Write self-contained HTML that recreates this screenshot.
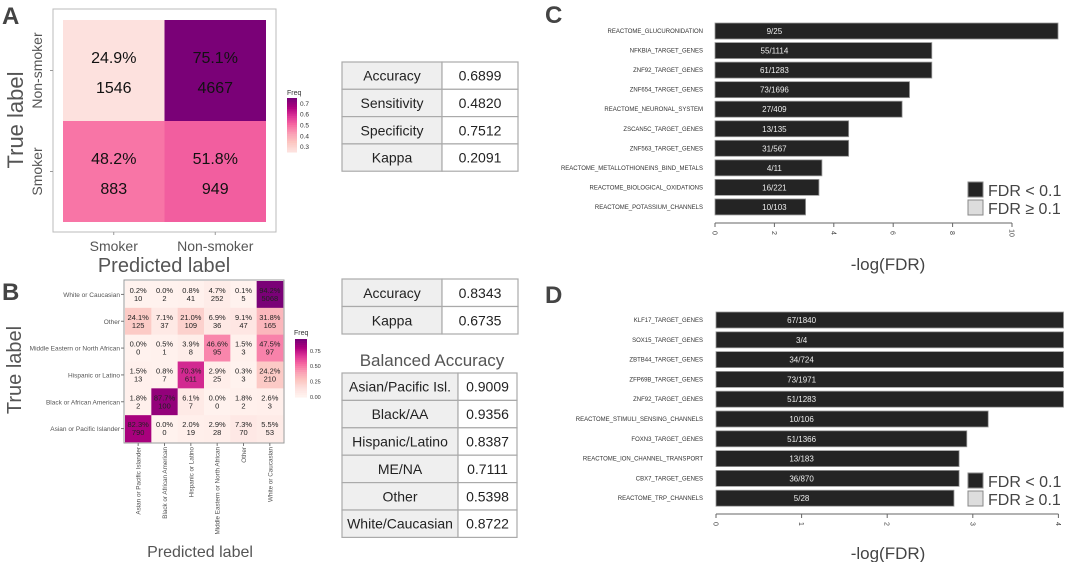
<!DOCTYPE html>
<html><head><meta charset="utf-8">
<style>
body{margin:0;background:#fff;}
svg{display:block;font-family:"Liberation Sans",Arial,sans-serif;}
</style></head>
<body>
<svg id="fig" width="1065" height="562" viewBox="0 0 1065 562" xmlns="http://www.w3.org/2000/svg">
<g id="gA"></g>
<g id="gB"></g>
<g id="gT"></g>
<g id="gC"></g>
<g id="gD"></g>
</svg>
<script>
// ---- Panel A data ----
const aCats = ["Smoker","Non-smoker"];
const aPct = [[0.249,0.751],[0.482,0.518]]; // rows: Non-smoker(top), Smoker(bottom)
const aCounts = [[1546,4667],[883,949]];
const aRowLabels = ["Non-smoker","Smoker"];
const aLegendTicks = [0.3,0.4,0.5,0.6,0.7];
// ---- Panel B data ----
const bCols = ["Asian or Pacific Islander","Black or African American","Hispanic or Latino","Middle Eastern or North African","Other","White or Caucasian"];
const bRows = ["White or Caucasian","Other","Middle Eastern or North African","Hispanic or Latino","Black or African American","Asian or Pacific Islander"];
const bPct = [
 [0.2,0.0,0.8,4.7,0.1,94.2],
 [24.1,7.1,21.0,6.9,9.1,31.8],
 [0.0,0.5,3.9,46.6,1.5,47.5],
 [1.5,0.8,70.3,2.9,0.3,24.2],
 [1.8,87.7,6.1,0.0,1.8,2.6],
 [82.3,0.0,2.0,2.9,7.3,5.5]];
const bCounts = [
 [10,2,41,252,5,5068],
 [125,37,109,36,47,165],
 [0,1,8,95,3,97],
 [13,7,611,25,3,210],
 [2,100,7,0,2,3],
 [790,0,19,28,70,53]];
const bLegendTicks = [0.00,0.25,0.50,0.75];
// ---- Tables ----
const tA = [["Accuracy","0.6899"],["Sensitivity","0.4820"],["Specificity","0.7512"],["Kappa","0.2091"]];
const tB1 = [["Accuracy","0.8343"],["Kappa","0.6735"]];
const tB2 = [["Asian/Pacific Isl.","0.9009"],["Black/AA","0.9356"],["Hispanic/Latino","0.8387"],["ME/NA","0.7111"],["Other","0.5398"],["White/Caucasian","0.8722"]];
// ---- Panel C data ----
const cTerms = ["REACTOME_GLUCURONIDATION","NFKBIA_TARGET_GENES","ZNF92_TARGET_GENES","ZNF654_TARGET_GENES","REACTOME_NEURONAL_SYSTEM","ZSCAN5C_TARGET_GENES","ZNF563_TARGET_GENES","REACTOME_METALLOTHIONEINS_BIND_METALS","REACTOME_BIOLOGICAL_OXIDATIONS","REACTOME_POTASSIUM_CHANNELS"];
const cValues = [11.55,7.3,7.3,6.55,6.3,4.5,4.5,3.6,3.5,3.05];
const cRatios = ["9/25","55/1114","61/1283","73/1696","27/409","13/135","31/567","4/11","16/221","10/103"];
const cTicks = [0,2,4,6,8,10];
// ---- Panel D data ----
const dTerms = ["KLF17_TARGET_GENES","SOX15_TARGET_GENES","ZBTB44_TARGET_GENES","ZFP69B_TARGET_GENES","ZNF92_TARGET_GENES","REACTOME_STIMULI_SENSING_CHANNELS","FOXN3_TARGET_GENES","REACTOME_ION_CHANNEL_TRANSPORT","CBX7_TARGET_GENES","REACTOME_TRP_CHANNELS"];
const dValues = [4.06,4.06,4.06,4.06,4.06,3.18,2.93,2.84,2.84,2.78];
const dRatios = ["67/1840","3/4","34/724","73/1971","51/1283","10/106","51/1366","13/183","36/870","5/28"];
const dTicks = [0,1,2,3,4];

const NS="http://www.w3.org/2000/svg";
function mk(parent,tag,attrs,text){const e=document.createElementNS(NS,tag);for(const k in attrs)e.setAttribute(k,attrs[k]);if(text!==undefined)e.textContent=text;parent.appendChild(e);return e;}
const stops=["#fff2ee","#fde0dd","#fcc5c0","#fa9fb5","#f768a1","#dd3497","#ae017e","#7a0177"];
function hex(h){return [1,3,5].map(i=>parseInt(h.substr(i,2),16));}
function rdpu(t){t=Math.max(0,Math.min(1,t));const p=t*(stops.length-1);const i=Math.min(stops.length-2,Math.floor(p));const f=p-i;const a=hex(stops[i]),b=hex(stops[i+1]);return "rgb("+a.map((v,k)=>Math.round(v+(b[k]-v)*f)).join(",")+")";}

// ===== Panel A =====
(function(){
const g=document.getElementById('gA');
const L=mk(g,'text',{x:2,y:24,'font-size':24,'font-weight':'bold',fill:'#444'},'A');

const fr=mk(g,'rect',{x:53,y:9,width:223,height:223,fill:'#fff',stroke:'#bbb','stroke-width':1});

const x0=63,y0=20,cw=101.5,ch=101;
const mn=0.17,mx=0.751;
for(let r=0;r<2;r++)for(let c=0;c<2;c++){
 const v=aPct[r][c];
 const cell=mk(g,'rect',{x:x0+c*cw,y:y0+r*ch,width:cw,height:ch,fill:rdpu((v-mn)/(mx-mn))});
 
 const cx=x0+c*cw+cw/2;
 const t1=mk(g,'text',{x:cx,y:y0+r*ch+43,'font-size':16,'text-anchor':'middle',fill:'#111'},(v*100).toFixed(1)+'%');
 
 const t2=mk(g,'text',{x:cx,y:y0+r*ch+73,'font-size':16,'text-anchor':'middle',fill:'#111'},aCounts[r][c]);
 
}
aCats.forEach((c,i)=>{const t=mk(g,'text',{x:x0+i*cw+cw/2,y:251,'font-size':14,'text-anchor':'middle',fill:'#555'},c);
 
 mk(g,'line',{x1:x0+i*cw+cw/2,x2:x0+i*cw+cw/2,y1:232,y2:235,stroke:'#999'});});
aRowLabels.forEach((c,i)=>{const yy=y0+i*ch+ch/2;const t=mk(g,'text',{x:0,y:0,'font-size':14,'text-anchor':'middle',fill:'#555',transform:'translate(42,'+yy+') rotate(-90)'},c);
 
 mk(g,'line',{x1:50,x2:53,y1:yy,y2:yy,stroke:'#999'});});
const xt=mk(g,'text',{x:164,y:272,'font-size':20,'text-anchor':'middle',fill:'#555'},'Predicted label');

const yt=mk(g,'text',{x:0,y:0,'font-size':22,'text-anchor':'middle',fill:'#555',transform:'translate(23,120) rotate(-90)'},'True label');

const lt=mk(g,'text',{x:287,y:95,'font-size':7,fill:'#333'},'Freq');

const N=30,by=98,bh=54,lmn=0.249;
for(let i=0;i<N;i++){const v=mx-(mx-lmn)*i/(N-1);mk(g,'rect',{x:287,y:by+i*bh/N,width:10,height:bh/N+0.5,fill:rdpu((v-mn)/(mx-mn))});}
aLegendTicks.forEach(t=>{const yy=by+bh-(t-lmn)/(mx-lmn)*bh;const e=mk(g,'text',{x:300,y:yy+2.5,'font-size':6.5,fill:'#333'},t.toFixed(1));
 });
})();

// ===== Panel B =====
(function(){
const g=document.getElementById('gB');
const L=mk(g,'text',{x:2,y:300,'font-size':24,'font-weight':'bold',fill:'#444'},'B');

const x0=125,y0=281,w=158,h=161,cw=w/6,ch=h/6;
mk(g,'rect',{x:x0-1,y:y0-1,width:w+2,height:h+2,fill:'#fff',stroke:'#999'});
const mx=94.2;
for(let r=0;r<6;r++)for(let c=0;c<6;c++){
 const v=bPct[r][c];
 const cell=mk(g,'rect',{x:x0+c*cw,y:y0+r*ch,width:cw+0.3,height:ch+0.3,fill:rdpu(v/mx)});
 
 const cx=x0+c*cw+cw/2;
 mk(g,'text',{x:cx,y:y0+r*ch+12,'font-size':7.5,'text-anchor':'middle',fill:'#222'},v.toFixed(1)+'%');
 mk(g,'text',{x:cx,y:y0+r*ch+20,'font-size':7.5,'text-anchor':'middle',fill:'#222'},bCounts[r][c]);
}
bRows.forEach((c,i)=>{const yy=y0+i*ch+ch/2;const t=mk(g,'text',{x:120,y:yy+2.5,'font-size':6.5,'text-anchor':'end',fill:'#555'},c);
 
 mk(g,'line',{x1:121,x2:124,y1:yy,y2:yy,stroke:'#777'});});
bCols.forEach((c,i)=>{const xx=x0+i*cw+cw/2;const t=mk(g,'text',{x:0,y:0,'font-size':6.3,'text-anchor':'end',fill:'#555',transform:'translate('+(xx+2.5)+',447) rotate(-90)'},c);
 
 mk(g,'line',{x1:xx,x2:xx,y1:443,y2:446,stroke:'#777'});});
const xt=mk(g,'text',{x:200,y:557,'font-size':16,'text-anchor':'middle',fill:'#555'},'Predicted label');

const yt=mk(g,'text',{x:0,y:0,'font-size':20,'text-anchor':'middle',fill:'#555',transform:'translate(21,370) rotate(-90)'},'True label');

const lt=mk(g,'text',{x:294,y:335,'font-size':7,fill:'#333'},'Freq');

const N=30,by=339,bh=58;
for(let i=0;i<N;i++){mk(g,'rect',{x:295,y:by+i*bh/N,width:12,height:bh/N+0.5,fill:rdpu(1-i/(N-1))});}
bLegendTicks.forEach(t=>{const yy=by+bh-(t/0.942)*bh;const e=mk(g,'text',{x:310,y:yy+2,'font-size':5.5,fill:'#333'},t.toFixed(2));
 });
})();

// ===== Tables =====
(function(){
const g=document.getElementById('gT');
function table(rows,x,y,w1,w2,rh,name){
 const tg=mk(g,'g',{});
 rows.forEach((r,i)=>{
  mk(tg,'rect',{x:x,y:y+i*rh,width:w1,height:rh,fill:'#efefef',stroke:'#aaa','stroke-width':1.2});
  mk(tg,'rect',{x:x+w1,y:y+i*rh,width:w2,height:rh,fill:'#fff',stroke:'#aaa','stroke-width':1.2});
  mk(tg,'text',{x:x+w1/2,y:y+i*rh+rh/2+5,'font-size':14,'text-anchor':'middle',fill:'#222'},r[0]);
  mk(tg,'text',{x:x+w1+w2/2,y:y+i*rh+rh/2+5,'font-size':14,'text-anchor':'middle',fill:'#222'},r[1]);
 });
}
table(tA,342,62,100,76,27.3,'table-a');
table(tB1,342,279,100,76,27.5,'table-b-overall');
const ba=mk(g,'text',{x:432,y:366,'font-size':17,'text-anchor':'middle',fill:'#555'},'Balanced Accuracy');

table(tB2,342,373,116,59,27.4,'table-b-balanced');
})();

// ===== Bar panels =====
function barPanel(id,letter,ly,terms,vals,ratios,ticks,x0,pxu,yc0,dy,axisY,titleY,labelVal,legY){
 const g=document.getElementById(id);
 const L=mk(g,'text',{x:545,y:ly,'font-size':24,'font-weight':'bold',fill:'#444'},letter);
 
 const xs=v=>x0+v*pxu;
 terms.forEach((t,i)=>{
  const yc=yc0+i*dy;
  const b=mk(g,'rect',{x:xs(0),y:yc-8,width:Math.min(xs(vals[i]),1064)-xs(0),height:16,fill:'#242424',stroke:'#999','stroke-width':0.8});
  
  const tl=mk(g,'text',{x:703,y:yc+2,'font-size':6,'text-anchor':'end',fill:'#333'},t);
  
  const rl=mk(g,'text',{x:xs(labelVal),y:yc+3,'font-size':8,'text-anchor':'middle',fill:'#eee'},ratios[i]);
  
 });
 mk(g,'line',{x1:xs(ticks[0]),x2:xs(ticks[ticks.length-1]),y1:axisY,y2:axisY,stroke:'#666'});
 ticks.forEach(t=>{mk(g,'line',{x1:xs(t),x2:xs(t),y1:axisY,y2:axisY+4,stroke:'#666'});
  const e=mk(g,'text',{x:0,y:0,'font-size':7,'text-anchor':'middle',fill:'#444',transform:'translate('+(xs(t)-2.5)+','+(axisY+10)+') rotate(90)'},t);
  });
 const tt=mk(g,'text',{x:888,y:titleY,'font-size':17,'text-anchor':'middle',fill:'#444'},'-log(FDR)');
 
 const l1=mk(g,'rect',{x:968,y:legY,width:15,height:15,fill:'#242424',stroke:'#888'});
 
 const l2=mk(g,'rect',{x:968,y:legY+18,width:15,height:15,fill:'#ddd',stroke:'#888'});
 
 const e1=mk(g,'text',{x:988,y:legY+14,'font-size':16,fill:'#444'},'FDR < 0.1');
 
 const e2=mk(g,'text',{x:988,y:legY+32,'font-size':16,fill:'#444'},'FDR \u2265 0.1');
 
}
barPanel('gC','C',23,cTerms,cValues,cRatios,cTicks,715,29.7,31,19.55,223,270,2.0,182);
barPanel('gD','D',303,dTerms,dValues,dRatios,dTicks,716,85.6,320,19.8,514,559,1.0,473);
</script>
</body></html>
